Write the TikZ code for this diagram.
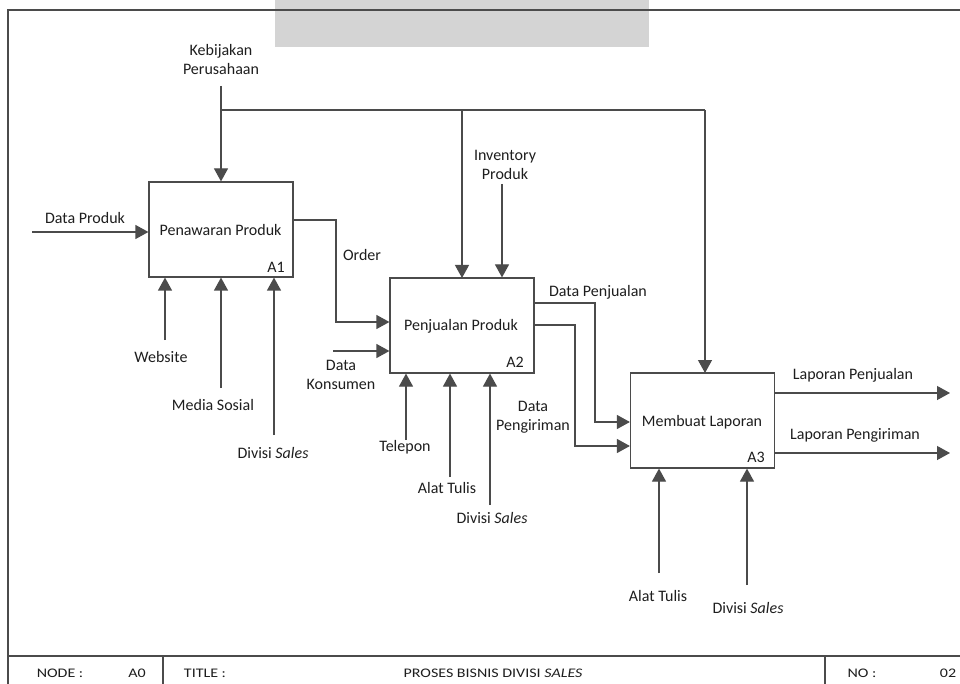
\documentclass[tikz,border=0pt]{standalone}
\usepackage{fontspec}
\setmainfont{Carlito}
\usetikzlibrary{arrows.meta}
\definecolor{ln}{RGB}{75,75,75}
\definecolor{tx}{RGB}{30,30,30}
\definecolor{wm}{RGB}{212,212,212}
\begin{document}
\begin{tikzpicture}[x=1pt,y=-1pt,
  every node/.style={text=tx,font=\fontsize{16}{19}\selectfont,inner sep=0pt},
  proc/.style={draw=ln,line width=1.2pt,fill=white,minimum width=144pt,minimum height=95pt},
  lbl/.style={align=center},
  flow/.style={draw=ln,line width=1.2pt,-{Triangle[length=13pt,width=14pt]}},
  frm/.style={draw=ln,line width=1.2pt},
  foot/.style={font=\fontsize{16}{19}\selectfont}]
\useasboundingbox (0,0) rectangle (960,684);
\fill[white] (0,0) rectangle (960,684);
% watermark block
\fill[wm] (275,0) rectangle (649,47);
% frame
\draw[frm] (960,10) -- (8,10) -- (8,684);
\draw[frm] (8,656) -- (960,656);
\draw[frm] (163,656) -- (163,684);
\draw[frm] (825,656) -- (825,684);
\node[foot] (fnode) at (60,673) {\scalebox{1}[0.82]{NODE :}};
\node[foot] (fa0) at (137,673) {\scalebox{1}[0.82]{A0}};
\node[foot] (ftitle) at (205,673) {\scalebox{1}[0.82]{TITLE :}};
\node[foot] (fproses) at (493,673) {\scalebox{1}[0.82]{PROSES BISNIS DIVISI \textit{SALES}}};
\node[foot] (fno) at (862,673) {\scalebox{1}[0.82]{NO :}};
\node[foot] (f02) at (948,673) {\scalebox{1}[0.82]{02}};

% boxes
\node[proc] (A1) at (221,229.5) {};
\node[proc] (A2) at (462,325.5) {};
\node[proc] (A3) at (702.5,420.5) {};
\node (t1) at (220.5,230) {Penawaran Produk};
\node (t2) at (461,326) {Penjualan Produk};
\node (t3) at (702,422) {Membuat Laporan};
\node (n1) at (276,267) {A1};
\node (n2) at (515,362) {A2};
\node (n3) at (756,457) {A3};

% labels
\node[lbl] (lkeb) at (221,60) {Kebijakan\\Perusahaan};
\node[lbl] (linv) at (505,165) {Inventory\\Produk};
\node (ldp) at (85,218) {Data Produk};
\node (lorder) at (362,255) {Order};
\node[lbl] (lkons) at (341,375) {Data\\Konsumen};
\node (lweb) at (161,357) {Website};
\node (lmed) at (213,405) {Media Sosial};
\node (ldiv1) at (273,453) {Divisi \textit{Sales}};
\node (ltel) at (405,447) {Telepon};
\node (lalat2) at (447,488) {Alat Tulis};
\node (ldiv2) at (492,518) {Divisi \textit{Sales}};
\node[lbl] (lpeng) at (533,417) {Data\\Pengiriman};
\node (lpenj) at (598,292) {Data Penjualan};
\node (llpj) at (853,375) {Laporan Penjualan};
\node (llpg) at (855,435) {Laporan Pengiriman};
\node (lalat3) at (658,596) {Alat Tulis};
\node (ldiv3) at (748,608) {Divisi \textit{Sales}};

% free ends
\coordinate (ckeb) at (221,86);
\coordinate (cinv) at (502,184);
\coordinate (cdp) at (32,232);
\coordinate (ckons) at (333,351);
\coordinate (cweb) at (165,340);
\coordinate (cmed) at (221,388);
\coordinate (cdiv1) at (274,435);
\coordinate (ctel) at (406,440);
\coordinate (calat2) at (450,477);
\coordinate (cdiv2) at (490,505);
\coordinate (calat3) at (659,573);
\coordinate (cdiv3) at (747,585);
\coordinate (clpj) at (950,393);
\coordinate (clpg) at (950,453);

% controls
\draw[flow] (ckeb) -- (A1.north);
\draw[draw=ln,line width=1.2pt] (221,110) -- (705,110);
\draw[flow] (462,110) -- (462,278);
\draw[flow] (705,110) -- (705,373);
\draw[flow] (cinv) -- (cinv |- A2.north);

% inputs
\draw[flow] (cdp) -- (cdp -| A1.west);
\draw[flow] (A1.east |- 0,220) -- (336,220) -- (336,322) -- (A2.west |- 0,322);
\draw[flow] (ckons) -- (ckons -| A2.west);
\draw[flow] (A2.east |- 0,303) -- (595,303) -- (595,422) -- (A3.west |- 0,422);
\draw[flow] (A2.east |- 0,325) -- (575,325) -- (575,446) -- (A3.west |- 0,446);

% outputs
\draw[flow] (A3.east |- clpj) -- (clpj);
\draw[flow] (A3.east |- clpg) -- (clpg);

% mechanisms
\draw[flow] (cweb) -- (cweb |- A1.south);
\draw[flow] (cmed) -- (cmed |- A1.south);
\draw[flow] (cdiv1) -- (cdiv1 |- A1.south);
\draw[flow] (ctel) -- (ctel |- A2.south);
\draw[flow] (calat2) -- (calat2 |- A2.south);
\draw[flow] (cdiv2) -- (cdiv2 |- A2.south);
\draw[flow] (calat3) -- (calat3 |- A3.south);
\draw[flow] (cdiv3) -- (cdiv3 |- A3.south);
\end{tikzpicture}
\end{document}
